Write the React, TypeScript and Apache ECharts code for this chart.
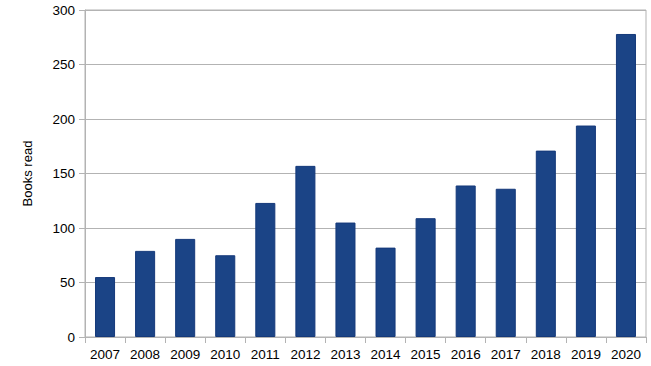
import React, { useEffect, useRef } from "react";
import * as echarts from "echarts";

const years = ["2007", "2008", "2009", "2010", "2011", "2012", "2013", "2014", "2015", "2016", "2017", "2018", "2019", "2020"];
const booksRead = [55, 79, 90, 75, 123, 157, 105, 82, 109, 139, 136, 171, 194, 278];
const yAxisTitle = "Books read";

export default function App() {
  const ref = useRef<HTMLDivElement>(null);
  useEffect(() => {
    const chart = echarts.init(ref.current!, null, { renderer: "svg" });
    const font = "'Liberation Sans', Arial, sans-serif";
    chart.setOption({
      animation: false,
      backgroundColor: "#ffffff",
      grid: { left: 85, right: 5, top: 10, bottom: 29, show: true, borderColor: "#b3b3b3", borderWidth: 1 },
      xAxis: {
        type: "category",
        data: years,
        boundaryGap: true,
        axisLine: { lineStyle: { color: "#b3b3b3", width: 1 } },
        axisTick: { show: true, length: 6, lineStyle: { color: "#b3b3b3" } },
        axisLabel: { color: "#000", fontSize: 13.5, fontFamily: font, margin: 10, interval: 0 },
      },
      yAxis: {
        type: "value",
        min: 0,
        max: 300,
        interval: 50,
        name: yAxisTitle,
        nameLocation: "middle",
        nameRotate: 90,
        nameGap: 51,
        nameTextStyle: { color: "#000", fontSize: 13, fontFamily: font },
        axisLine: { show: true, lineStyle: { color: "#b3b3b3", width: 1 } },
        axisTick: { show: true, length: 6, lineStyle: { color: "#b3b3b3" } },
        axisLabel: { color: "#000", fontSize: 13.5, fontFamily: font, margin: 10 },
        splitLine: { lineStyle: { color: "#b3b3b3", width: 1 } },
      },
      series: [
        {
          type: "bar",
          data: booksRead,
          barWidth: "50%",
          itemStyle: { color: "#1b4486", borderColor: "#15397a", borderWidth: 1 },
        },
      ],
    });
    return () => chart.dispose();
  }, []);
  return <div ref={ref} style={{ width: 651, height: 366, position: "absolute", left: 0, top: 0 }} />;
}
